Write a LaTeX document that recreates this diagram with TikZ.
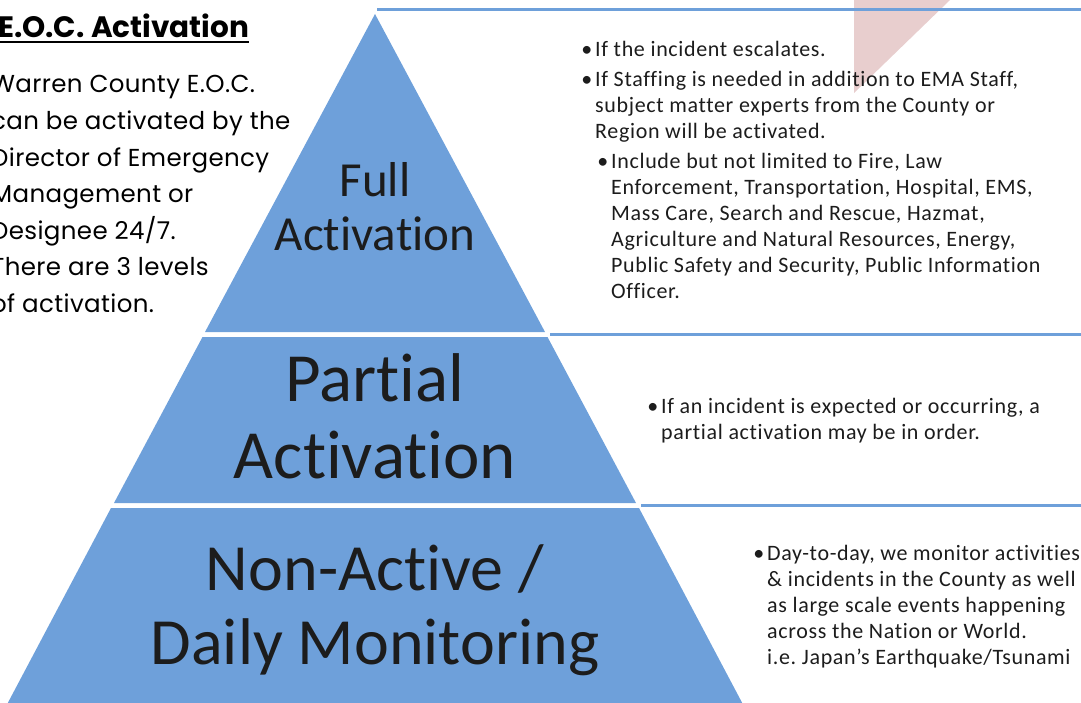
\documentclass[tikz,border=0pt]{standalone}
\usepackage{fontspec}
\setmainfont{Carlito}[Ligatures=NoCommon]
\newfontfamily\notefont{Carlito}[Ligatures=NoCommon,LetterSpace=3]
\newfontfamily\gothic{Poppins}[LetterSpace=1.5]
\newfontfamily\gothictitle{Poppins}
\usetikzlibrary{positioning}

\definecolor{pyrblue}{RGB}{110,160,218}
\definecolor{faintpink}{RGB}{232,206,206}
\definecolor{ink}{RGB}{28,28,28}

\begin{document}
\begin{tikzpicture}[x=1pt,y=-1pt,
	level/.style={fill=pyrblue},
	levellabel/.style={align=center,text=ink,inner sep=0pt},
	rule/.style={draw=pyrblue,line width=3pt},
	notes/.style={anchor=north west,align=left,text=ink,inner sep=0pt,
		font=\notefont\fontsize{22}{26}\selectfont},
	sidetext/.style={anchor=north west,align=left,text=black,inner sep=0pt}]

		\useasboundingbox (0,0) rectangle (1081,703);
		\clip (0,0) rectangle (1081,703);

		\fill[faintpink] (854,0) -- (950,0) -- (854,93) -- cycle;

		% pyramid
		\fill[level] (375,14) -- (545,332) -- (205,332) -- cycle;
		\fill[level] (202.5,337) -- (547.5,337) -- (636,503) -- (114,503) -- cycle;
		\fill[level] (111,508) -- (639,508) -- (747,712) -- (3,712) -- cycle;

		\node[levellabel,font=\fontsize{49}{54}\selectfont] (full) at (375,207)
			{Full\\Activation};
		\node[levellabel,font=\fontsize{69}{77}\selectfont] (partial) at (375,416)
			{Partial\\Activation};
		\node[levellabel,font=\fontsize{66}{74}\selectfont] (daily) at (375,610)
			{Non-Active /\\Daily Monitoring};

		% rules and notes on the right
		\draw[rule] (377,10) -- (1081,10);
		\draw[rule] (550,334) -- (1081,334);
		\draw[rule] (641,505) -- (1081,505);

		\node[notes] (fullnote) at (595,41.5)
			{\llap{\textbullet\hspace{3pt}}If the incident escalates.\\[4pt]
			\llap{\textbullet\hspace{3pt}}If Staffing is needed in addition to EMA Staff,\\
			subject matter experts from the County or\\
			Region will be activated.};
		\node[notes] (fullsub) at (611,153.5)
			{\llap{\textbullet\hspace{3pt}}Include but not limited to Fire, Law\\
			Enforcement, Transportation, Hospital, EMS,\\
			Mass Care, Search and Rescue, Hazmat,\\
			Agriculture and Natural Resources, Energy,\\
			Public Safety and Security, Public Information\\
			Officer.};
		\node[notes] (partialnote) at (661,398.5)
			{\llap{\textbullet\hspace{3pt}}If an incident is expected or occurring, a\\
			partial activation may be in order.};
		\node[notes] (dailynote) at (767,545.5)
			{\llap{\textbullet\hspace{3pt}}Day-to-day, we monitor activities\\
			\& incidents in the County as well\\
			as large scale events happening\\
			across the Nation or World.\\
			i.e.\ Japan’s Earthquake/Tsunami};

		% left side
		\node[sidetext,font=\gothictitle\bfseries\fontsize{29.5}{36}\selectfont] (title) at (-2,13.5)
			{E.O.C. Activation};
		\draw[line width=2pt] ([yshift=-4.5pt]title.south west) -- ([yshift=-4.5pt]title.south east);
		\node[sidetext,font=\gothic\fontsize{24.5}{36.6}\selectfont] (about) at (-9,75.5)
			{Warren County E.O.C.\\
			can be activated by the\\
			Director of Emergency\\
			Management or\\
			Designee 24/7.\\
			There are 3 levels\\
			of activation.};
	\end{tikzpicture}
\end{document}
